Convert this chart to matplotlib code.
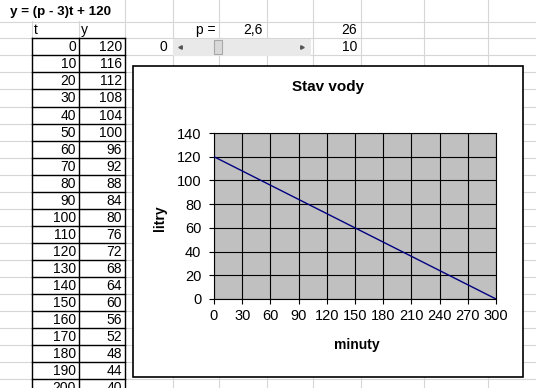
import matplotlib
matplotlib.use('Agg')
import matplotlib.pyplot as plt
from matplotlib.patches import Rectangle

plt.rcParams['font.family'] = ['Liberation Sans', 'DejaVu Sans']

# data read from the sheet
minutes = [0, 10, 20, 30, 40, 50, 60, 70, 80, 90, 100, 110, 120, 130, 140, 150,
           160, 170, 180, 190, 200, 210, 220, 230, 240, 250, 260, 270, 280, 290, 300]
liters = [120, 116, 112, 108, 104, 100, 96, 92, 88, 84, 80, 76, 72, 68, 64, 60,
          56, 52, 48, 44, 40, 36, 32, 28, 24, 20, 16, 12, 8, 4, 0]
formula = 'y = (p - 3)t + 120'
p_text = '2,6'
slider_val = '26'
slider_min = '0'
slider_step = '10'
x_ticks = [0, 30, 60, 90, 120, 150, 180, 210, 240, 270, 300]
y_ticks = [0, 20, 40, 60, 80, 100, 120, 140]

W, H = 536, 388
fig = plt.figure(figsize=(W / 100, H / 100), dpi=100)

# spreadsheet background, pixel coordinates
bg = fig.add_axes([0, 0, 1, 1])
bg.set_xlim(0, W)
bg.set_ylim(H, 0)
bg.axis('off')

col_edges = [32, 79, 125, 173, 219, 267, 313, 361, 424, 488]
row_h = 17.05
row0 = 38.3
row_edges = [21.5] + [row0 + k * row_h for k in range(22)]

grid_c = '#d6d6d6'
for x in col_edges:
    bg.plot([x, x], [0, H], color=grid_c, lw=0.8, zorder=1)
for y in row_edges:
    bg.plot([0, W], [y, y], color=grid_c, lw=0.8, zorder=1)

# cover gridlines under the overflowing formula text
bg.add_patch(Rectangle((1, 0), 118, 21, fc='white', ec='none', zorder=2))
bg.text(10, 12, formula, fontsize=9.6, fontweight='bold', va='center', ha='left', zorder=3)
bg.text(34, 30, 't', fontsize=10, va='center', ha='left', zorder=3)
bg.text(81, 30, 'y', fontsize=10, va='center', ha='left', zorder=3)

# table with borders
n_rows = len(minutes)
for i in range(n_rows):
    top = row0 + i * row_h
    if top > H:
        break
    bg.plot([32, 125], [top, top], color='black', lw=1.0, zorder=4)
    yc = top + row_h / 2 + 0.5
    bg.text(76, yc, str(minutes[i]), fontsize=10, ha='right', va='center', zorder=5, clip_on=True)
    bg.text(122, yc, str(liters[i]), fontsize=10, ha='right', va='center', zorder=5, clip_on=True)
for x in [32, 79, 125]:
    bg.plot([x, x], [row0, H], color='black', lw=1.0, zorder=4)

# p value and slider
bg.text(215, 30, 'p =', fontsize=10, ha='right', va='center', zorder=3)
bg.text(263, 30, p_text, fontsize=10, ha='right', va='center', zorder=3)
bg.text(357, 30, slider_val, fontsize=10, ha='right', va='center', zorder=3)
bg.text(357, 47, slider_step, fontsize=10, ha='right', va='center', zorder=3)
bg.text(167, 47, slider_min, fontsize=10, ha='right', va='center', zorder=3)
bg.add_patch(Rectangle((173, 38.5), 138, 17, fc='#e9e9e9', ec='none', zorder=3))
bg.add_patch(Rectangle((214, 40), 8, 14, fc='#d9d9d9', ec='#a8a8a8', lw=0.8, zorder=4))
bg.plot([180], [47], marker='<', ms=2.5, color='#555555', zorder=4)
bg.plot([302], [47], marker='>', ms=2.5, color='#555555', zorder=4)

# chart frame
bg.add_patch(Rectangle((133, 65.5), 390, 311.5, fc='white', ec='black', lw=1.2, zorder=6))

# plot area
pl, pr, pt, pb = 214, 496, 133, 299
ax = fig.add_axes([pl / W, 1 - pb / H, (pr - pl) / W, (pb - pt) / H])
ax.set_facecolor('#c0c0c0')
ax.plot(minutes, liters, color='#000080', lw=1.0, zorder=3)
ax.set_xlim(0, 300)
ax.set_ylim(0, 140)
ax.set_xticks(x_ticks)
ax.set_yticks(y_ticks)
ax.grid(True, color='black', lw=0.8)
ax.set_axisbelow(True)
for s in ax.spines.values():
    s.set_color('black')
    s.set_linewidth(0.8)
ax.tick_params(direction='out', length=3.6, width=0.8, labelsize=10.5)
ax.tick_params(axis='y', pad=5.5)
ax.tick_params(axis='x', pad=3.5)

fig.text(328 / W, 1 - 87 / H, 'Stav vody', fontsize=11, fontweight='bold', ha='center', va='center')
fig.text(160 / W, 1 - 218 / H, 'litry', fontsize=10, fontweight='bold', ha='center', va='center', rotation=90)
fig.text(357 / W, 1 - 345 / H, 'minuty', fontsize=10, fontweight='bold', ha='center', va='center')

fig.savefig('out.png', dpi=100)
